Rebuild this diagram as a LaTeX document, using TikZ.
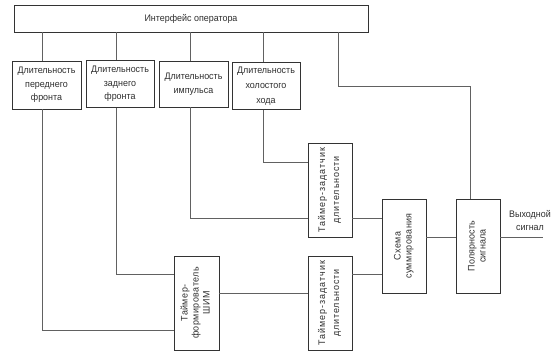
\documentclass[tikz,border=0pt]{standalone}
\usepackage{fontspec}
\setmainfont[FakeStretch=0.94]{Liberation Sans}
\usepackage{tikz}
\usetikzlibrary{positioning}
\definecolor{wire}{rgb}{0.38,0.38,0.38}
\definecolor{edge}{rgb}{0.2,0.2,0.2}
\definecolor{ink}{rgb}{0.18,0.18,0.18}
\newcommand{\vtext}[2][1]{\rotatebox{90}{\addfontfeature{LetterSpace=#1}\begin{tabular}{@{}c@{}}#2\end{tabular}}}

\begin{document}
\begin{tikzpicture}[x=1pt, y=-1pt,
    block/.style={draw=edge, line width=0.8pt, inner sep=1pt, align=center, text=ink,
      font=\fontsize{9.5}{13.5}\selectfont},
    vblock/.style={draw=edge, line width=0.8pt, inner sep=0pt, text=ink,
      minimum width=44, minimum height=94, font=\fontsize{9.5}{11}\selectfont},
    wire/.style={draw=wire, line width=0.8pt}]

      \useasboundingbox (0,0) rectangle (560,352);

      \node [block, minimum width=354, minimum height=27] at (191, 18.5) (op) {Интерфейс оператора};
      \node [block, minimum width=69, minimum height=48] at (46.5, 85) (d1) {Длительность\\переднего\\фронта};
      \node [block, minimum width=68, minimum height=47] at (120, 84) (d2) {Длительность\\заднего\\фронта};
      \node [block, minimum width=69, minimum height=46] at (193.5, 84) (d3) {Длительность\\импульса};
      \node [block, minimum width=68, minimum height=47, font=\fontsize{9.5}{15}\selectfont] at (266, 86) (d4) {Длительность\\холостого\\хода};

      \node [vblock] at (330, 190) (t1) {\vtext[10]{Таймер-задатчик\\[3pt]длительности}};
      \node [vblock] at (330, 303) (t2) {\vtext[10]{Таймер-задатчик\\[3pt]длительности}};
      \node [vblock, minimum width=45] at (196.5, 303) (pwm) {\vtext[5]{Таймер-\\формирователь\\ШИМ}};
      \node [vblock] at (404, 246) (sum) {\vtext[5]{Схема\\суммирования}};
      \node [vblock] at (478, 246) (pol) {\vtext[2]{Полярность\\сигнала}};

      \node [align=center, text=ink, font=\fontsize{9.5}{13}\selectfont] at (530, 221) (out) {Выходной\\сигнал};
      \coordinate (outend) at (543, 237);

      \draw [wire] ([xshift=-4.5pt]d1.north |- op.south) -- ([xshift=-4.5pt]d1.north);
      \draw [wire] ([xshift=-4pt]d2.north |- op.south) -- ([xshift=-4pt]d2.north);
      \draw [wire] ([xshift=-3.5pt]d3.north |- op.south) -- ([xshift=-3.5pt]d3.north);
      \draw [wire] ([xshift=-3pt]d4.north |- op.south) -- ([xshift=-3pt]d4.north);
      \draw [wire] ([xshift=147pt]op.south) -- ++(0,54) -| ([xshift=-8pt]pol.north);

      \draw [wire] ([xshift=-3pt]d4.south) |- ([yshift=28pt]t1.west);
      \draw [wire] ([xshift=-3.5pt]d3.south) |- ([yshift=-28pt]t1.west);
      \draw [wire] ([xshift=-4pt]d2.south) |- ([yshift=29pt]pwm.west);
      \draw [wire] ([xshift=-4.5pt]d1.south) |- ([yshift=-27pt]pwm.west);

      \draw [wire] ([yshift=10pt]pwm.east) -- ([yshift=10pt]pwm.east -| t2.west);
      \draw [wire] ([yshift=-28pt]t1.east) -- ([yshift=-28pt]t1.east -| sum.west);
      \draw [wire] ([yshift=29pt]t2.east) -- ([yshift=29pt]t2.east -| sum.west);
      \draw [wire] ([yshift=9pt]sum.east) -- ([yshift=9pt]sum.east -| pol.west);
      \draw [wire] ([yshift=9pt]pol.east) -- (outend);
    \end{tikzpicture}
\end{document}
